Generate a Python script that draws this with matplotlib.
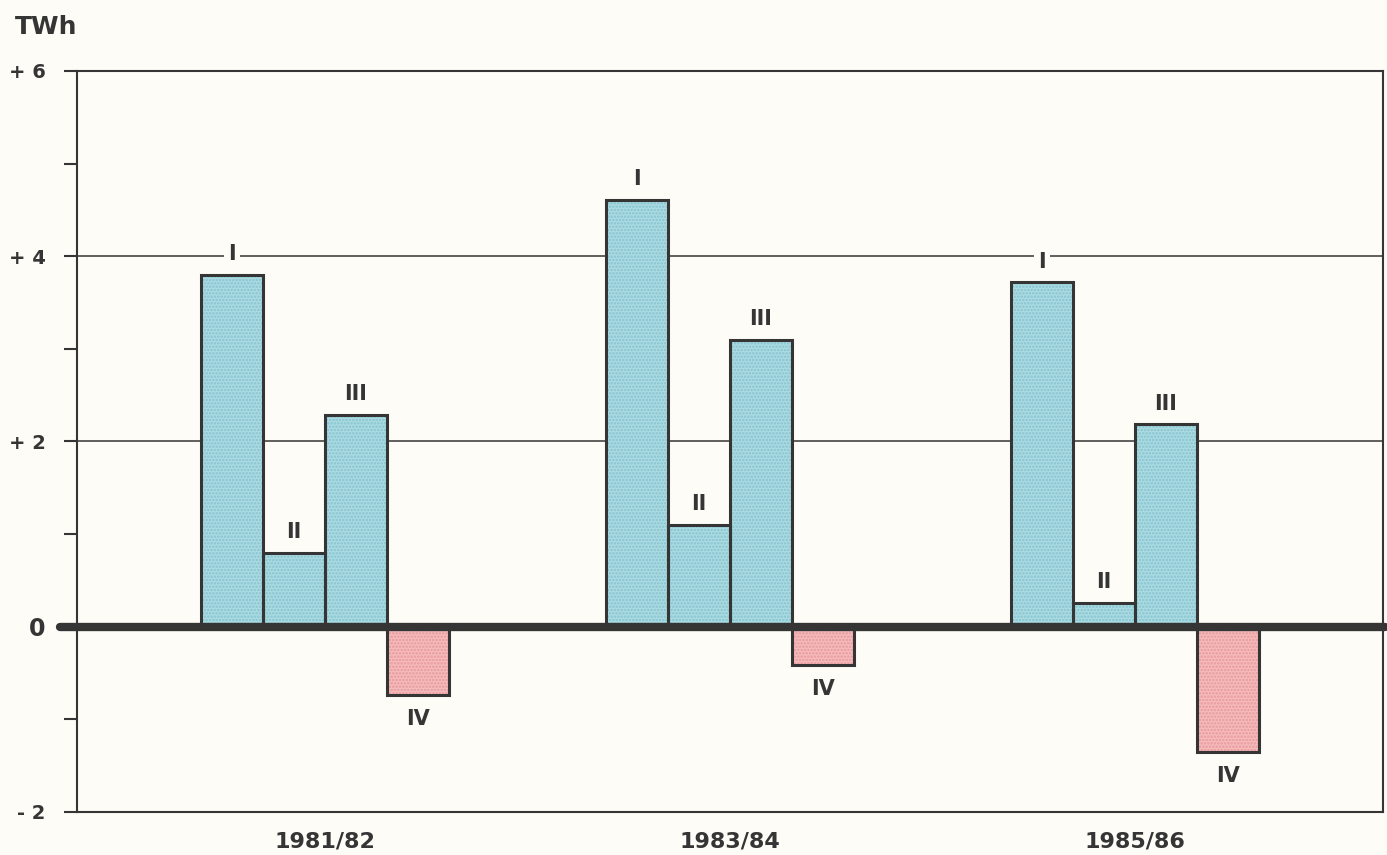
import numpy as np
import matplotlib
matplotlib.use('Agg')
import matplotlib.pyplot as plt

plt.rcParams['font.family'] = ['DejaVu Sans']
plt.rcParams['hatch.linewidth'] = 1.2

years = ['1981/82', '1983/84', '1985/86']
quarters = ['I', 'II', 'III', 'IV']
# TWh per quarter, one list per season
q1 = [3.80, 4.61, 3.72]
q2 = [0.80, 1.10, 0.26]
q3 = [2.29, 3.10, 2.19]
q4 = [-0.74, -0.41, -1.35]

yticks = [6, 5, 4, 3, 2, 1, 0, -1, -2]
ytick_labels = ['+ 6', '', '+ 4', '', '+ 2', '', '0', '', '- 2']

BLUE = '#acdbe2'
BLUE_DOT = '#85c3cf'
PINK = '#f5bcbc'
PINK_DOT = '#e8979b'
INK = '#353535'
BG = '#fdfcf6'

fig = plt.figure(figsize=(13.87, 8.55), dpi=100, facecolor=BG)
ax = fig.add_axes([0.0555, 0.0503, 0.9415, 0.8667])
ax.set_facecolor(BG)

group_start = [2.0, 8.53, 15.06]
series = [q1, q2, q3, q4]

ax.axhline(4, color=INK, lw=1.1, zorder=1)
ax.axhline(2, color=INK, lw=1.1, zorder=1)

for k, vals in enumerate(series):
    xs = np.array(group_start) + 0.5 + k
    face = PINK if k == 3 else BLUE
    dot = PINK_DOT if k == 3 else BLUE_DOT
    ax.bar(xs, vals, width=1.0, color=face, edgecolor='none', zorder=2)
    ax.bar(xs, vals, width=1.0, fill=False, hatch='.....', edgecolor=dot,
           linewidth=0, zorder=2.5)
    ax.bar(xs, vals, width=1.0, fill=False, edgecolor=INK, linewidth=2.2,
           zorder=3)
    for x, v in zip(xs, vals):
        off = 0.22 if v >= 0 else -0.26
        ax.text(x, v + off, quarters[k], ha='center', va='center',
                fontsize=15, fontweight='bold', color=INK, zorder=4,
                bbox=dict(facecolor=BG, edgecolor='none', pad=3))

# thick zero line, running a bit past the frame
ax.plot([-0.27, 21.1], [0, 0], color=INK, lw=6, solid_capstyle='round',
        clip_on=False, zorder=5)

ax.set_xlim(0, 21.06)
ax.set_ylim(-2, 6)
ax.set_yticks(yticks)
ax.set_yticklabels(ytick_labels)
for lab, t in zip(ax.get_yticklabels(), yticks):
    lab.set_fontweight('bold')
    lab.set_fontsize(17 if t == 0 else 14)
    lab.set_color(INK)
ax.tick_params(axis='y', direction='out', length=9.5, width=1.5, color=INK,
               pad=13)

ax.set_xticks([g + 2 for g in group_start])
ax.set_xticklabels(years, fontsize=16, fontweight='bold', color=INK)
ax.tick_params(axis='x', length=0, pad=14)

for s in ax.spines.values():
    s.set_color(INK)
    s.set_linewidth(1.5)

fig.text(0.011, 0.968, 'TWh', fontsize=18, fontweight='bold', color=INK,
         va='center', ha='left')

fig.savefig('out.png', dpi=100, facecolor=BG)
